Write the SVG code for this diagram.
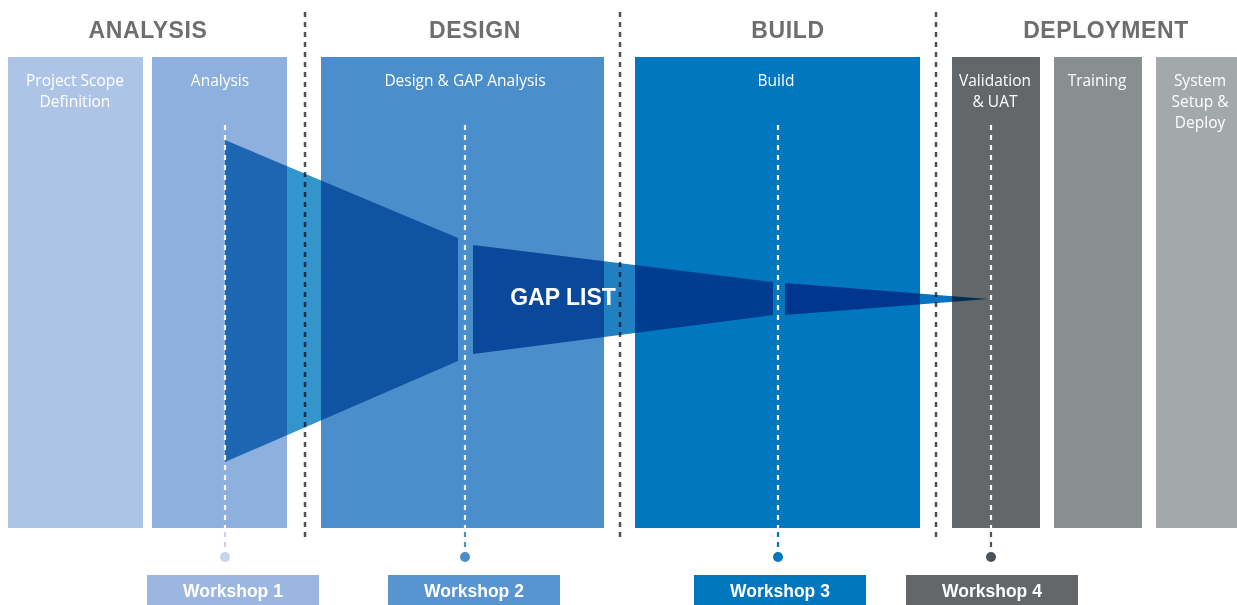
<svg xmlns="http://www.w3.org/2000/svg" width="1237" height="605" viewBox="0 0 1237 605">
<style>
.hdr{font-family:"Liberation Sans",Arial,sans-serif;font-weight:bold;font-size:23px;letter-spacing:0.6px;fill:#6d6e70;text-anchor:middle}
.col{font-family:"Open Sans","Liberation Sans",Arial,sans-serif;font-size:15.5px;fill:#ffffff;text-anchor:middle}
.ws{font-family:"Liberation Sans",Arial,sans-serif;font-weight:bold;font-size:17.5px;fill:#ffffff;text-anchor:middle}
.sep{stroke:#4d5256;stroke-width:2.5;stroke-dasharray:5 5;fill:none}
.wl{stroke:#ffffff;stroke-width:2.2;stroke-dasharray:5 5;fill:none}
.funnel{mix-blend-mode:multiply}
</style>
<rect x="0" y="0" width="1237" height="605" fill="#ffffff"/>
<g id="headers">
<text class="hdr" x="148" y="38">ANALYSIS</text>
<text class="hdr" x="475" y="38">DESIGN</text>
<text class="hdr" x="788" y="38">BUILD</text>
<text class="hdr" x="1106" y="38">DEPLOYMENT</text>
</g>
<g id="col-scope"><rect x="8" y="57" width="135" height="471" fill="#aec4e6"/><text class="col" x="75" y="86">Project Scope</text><text class="col" x="75" y="107">Definition</text></g>
<g id="col-analysis"><rect x="152" y="57" width="135" height="471" fill="#8eb0de"/><text class="col" x="220" y="86">Analysis</text></g>
<g id="col-design"><rect x="321" y="57" width="283" height="471" fill="#4a8fcc"/><text class="col" x="465" y="86">Design &amp; GAP Analysis</text></g>
<g id="col-build"><rect x="635" y="57" width="285" height="471" fill="#0077be"/><text class="col" x="776" y="86">Build</text></g>
<g id="col-validation"><rect x="952" y="57" width="88" height="471" fill="#63676a"/><text class="col" x="995" y="86">Validation</text><text class="col" x="995" y="107">&amp; UAT</text></g>
<g id="col-training"><rect x="1054" y="57" width="88" height="471" fill="#898e90"/><text class="col" x="1097" y="86">Training</text></g>
<g id="col-deploy"><rect x="1156" y="57" width="81" height="471" fill="#a3a8aa"/><text class="col" x="1200" y="86">System</text><text class="col" x="1200" y="107">Setup &amp;</text><text class="col" x="1200" y="128">Deploy</text></g>
<g id="separators">
<line class="sep" x1="305" y1="12" x2="305" y2="540"/>
<line class="sep" x1="620" y1="12" x2="620" y2="540"/>
<line class="sep" x1="936" y1="12" x2="936" y2="540"/>
</g>
<g id="funnel">
<polygon class="funnel" points="225,140 458,238 458,361 225,462" fill="#3494cc"/>
<polygon class="funnel" points="473,245 773,282 773,315 473,354" fill="#2080c2"/>
<polygon class="funnel" points="785,283 988,299 785,315" fill="#0874bf"/>
<text x="563" y="305" font-family="Liberation Sans,Arial,sans-serif" font-weight="bold" font-size="23" fill="#ffffff" text-anchor="middle">GAP LIST</text>
</g>
<g id="connectors">
<line class="wl" x1="225" y1="125" x2="225" y2="528"/>
<line class="wl" x1="465" y1="125" x2="465" y2="528"/>
<line class="wl" x1="778" y1="125" x2="778" y2="528"/>
<line class="wl" x1="991" y1="125" x2="991" y2="528"/>
<line x1="225" y1="532" x2="225" y2="550" stroke="#c5d3ee" stroke-width="2.2" stroke-dasharray="5 5"/>
<line x1="465" y1="532" x2="465" y2="550" stroke="#4a8fcc" stroke-width="2.2" stroke-dasharray="5 5"/>
<line x1="778" y1="532" x2="778" y2="550" stroke="#0077be" stroke-width="2.2" stroke-dasharray="5 5"/>
<line x1="991" y1="532" x2="991" y2="550" stroke="#4d5256" stroke-width="2.2" stroke-dasharray="5 5"/>
<circle cx="225" cy="557" r="5" fill="#c5d4ef"/>
<circle cx="465" cy="557" r="5" fill="#4a8fcc"/>
<circle cx="778" cy="557" r="5" fill="#0077be"/>
<circle cx="991" cy="557" r="5" fill="#4d5256"/>
</g>
<g id="workshop-1"><rect x="147" y="575" width="172" height="30" fill="#9bb7e1"/><text class="ws" x="233" y="597">Workshop 1</text></g>
<g id="workshop-2"><rect x="388" y="575" width="172" height="30" fill="#5794d0"/><text class="ws" x="474" y="597">Workshop 2</text></g>
<g id="workshop-3"><rect x="694" y="575" width="172" height="30" fill="#0077be"/><text class="ws" x="780" y="597">Workshop 3</text></g>
<g id="workshop-4"><rect x="906" y="575" width="172" height="30" fill="#63676a"/><text class="ws" x="992" y="597">Workshop 4</text></g>
</svg>
